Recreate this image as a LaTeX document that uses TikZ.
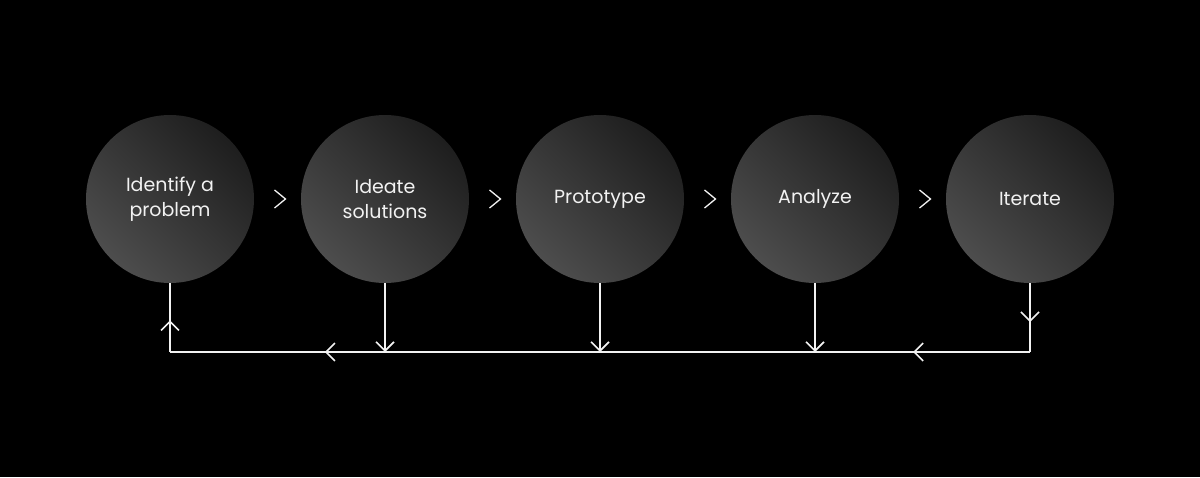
\documentclass[tikz,border=0pt]{standalone}
\usepackage{fontspec}
\setmainfont{Poppins}
\usetikzlibrary{arrows.meta,decorations.markings,calc}
\definecolor{StepDark}{HTML}{1E1E1E}
\definecolor{StepLight}{HTML}{4D4D4D}
\definecolor{InkWhite}{HTML}{F2F2F2}
\tikzset{loopbarb/.tip={Straight Barb[length=9pt,width=18pt]}}

\begin{document}
\begin{tikzpicture}[x=1pt, y=1pt,
    stage/.style={circle, minimum size=168pt, inner sep=0pt, shade, top color=StepDark, bottom color=StepLight, shading angle=-45, text=InkWhite, align=center, font=\fontsize{19}{25}\selectfont},
    flow/.style={draw=InkWhite, line width=1.6pt},
    chev/.style={draw=InkWhite, line width=1.3pt},
    midtip/.style={postaction=decorate, decoration={markings, mark=at position #1 with {\arrow{loopbarb}}}}
]
    \fill[black] (0,0) rectangle (1200,477);

    \node[stage] (identify) at (170, 278) {Identify a\\problem};
    \node[stage] (ideate) at (385, 278) {Ideate\\solutions};
    \node[stage] (proto) at (600, 278) {Prototype};
    \node[stage] (analyze) at (815, 278) {Analyze};
    \node[stage] (iterate) at (1030, 278) {Iterate};

    % chevrons between the stages
    \foreach \a/\b in {identify/ideate, ideate/proto, proto/analyze, analyze/iterate}
        \draw[chev] ($(\a.east)!0.5!(\b.west)$) ++(-3,9) -- ++(11,-9) -- ++(-11,-9);

    % feedback loop
    \coordinate (base) at (0, 125);
    \draw[flow, midtip=0.565] (iterate.south) -- (iterate.south |- base);
    \draw[flow, postaction=decorate, decoration={markings,
        mark=at position 0.136 with {\arrow{loopbarb}},
        mark=at position 0.82 with {\arrow{loopbarb}}}]
        (iterate.south |- base) -- (identify.south |- base);
    \draw[flow, midtip=0.46] (identify.south |- base) -- (identify.south);

    \foreach \s in {ideate, proto, analyze}
        \draw[flow, -loopbarb] (\s.south) -- (\s.south |- base);
\end{tikzpicture}
\end{document}
